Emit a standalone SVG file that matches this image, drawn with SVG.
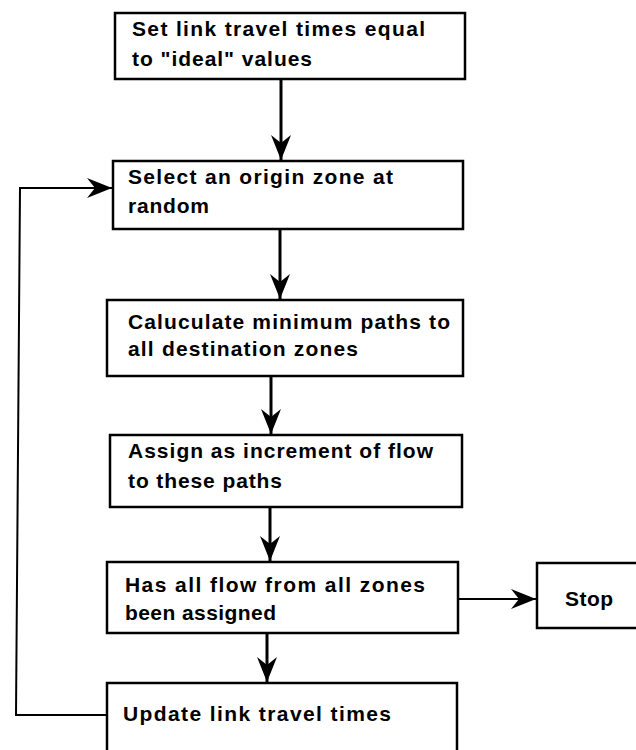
<svg xmlns="http://www.w3.org/2000/svg" width="636" height="750" viewBox="0 0 636 750">
<style>
.box{fill:#fff;stroke:#000;stroke-width:2.5}
.t{font-family:"Liberation Sans",Arial,Helvetica,sans-serif;font-weight:bold;font-size:21px;fill:#000}
.c{fill:none;stroke:#000;stroke-width:3}
.thin{fill:none;stroke:#000;stroke-width:2}
</style>
<defs>
<marker id="ah" markerUnits="userSpaceOnUse" markerWidth="30" markerHeight="26" viewBox="-26 -13 28 26" refX="0" refY="0" orient="auto">
<path d="M0,0 L-25,-10 L-17,0 L-25,10 Z" fill="#000"/>
</marker>
</defs>
<rect width="636" height="750" fill="#fff"/>
<g id="connectors">
<line class="c" x1="281" y1="79" x2="281" y2="160" marker-end="url(#ah)"/>
<line class="c" x1="280" y1="229" x2="280" y2="299" marker-end="url(#ah)"/>
<line class="c" x1="271" y1="376" x2="271" y2="434" marker-end="url(#ah)"/>
<line class="c" x1="270" y1="507" x2="270" y2="561" marker-end="url(#ah)"/>
<line class="c" x1="267" y1="633" x2="267" y2="682" marker-end="url(#ah)"/>
<line class="thin" x1="458" y1="599" x2="536" y2="599" marker-end="url(#ah)"/>
<polyline class="thin" points="107,715 16,715 20,188 112,188" marker-end="url(#ah)"/>
</g>
<g id="n1">
<rect class="box" x="115" y="13" width="350" height="66"/>
<text class="t" x="132" y="36" textLength="293" lengthAdjust="spacing">Set link travel times equal</text>
<text class="t" x="132" y="66" textLength="180" lengthAdjust="spacing">to "ideal" values</text>
</g>
<g id="n2">
<rect class="box" x="113" y="161" width="350" height="68"/>
<text class="t" x="128" y="184" textLength="265" lengthAdjust="spacing">Select an origin zone at</text>
<text class="t" x="128" y="213" textLength="81" lengthAdjust="spacing">random</text>
</g>
<g id="n3">
<rect class="box" x="107" y="300" width="356" height="76"/>
<text class="t" x="128" y="329" textLength="322" lengthAdjust="spacing">Caluculate minimum paths to</text>
<text class="t" x="128" y="356" textLength="230" lengthAdjust="spacing">all destination zones</text>
</g>
<g id="n4">
<rect class="box" x="110" y="435" width="352" height="72"/>
<text class="t" x="128" y="458" textLength="305" lengthAdjust="spacing">Assign as increment of flow</text>
<text class="t" x="128" y="488" textLength="154" lengthAdjust="spacing">to these paths</text>
</g>
<g id="n5">
<rect class="box" x="107" y="562" width="351" height="71"/>
<text class="t" x="125" y="592" textLength="300" lengthAdjust="spacing">Has all flow from all zones</text>
<text class="t" x="125" y="620" textLength="151" lengthAdjust="spacing">been assigned</text>
</g>
<g id="n6">
<rect class="box" x="107" y="683" width="350" height="85"/>
<text class="t" x="123" y="721" textLength="268" lengthAdjust="spacing">Update link travel times</text>
</g>
<g id="stop">
<rect class="box" x="537" y="563" width="115" height="65"/>
<text class="t" x="565" y="606" textLength="48" lengthAdjust="spacing">Stop</text>
</g>
</svg>
